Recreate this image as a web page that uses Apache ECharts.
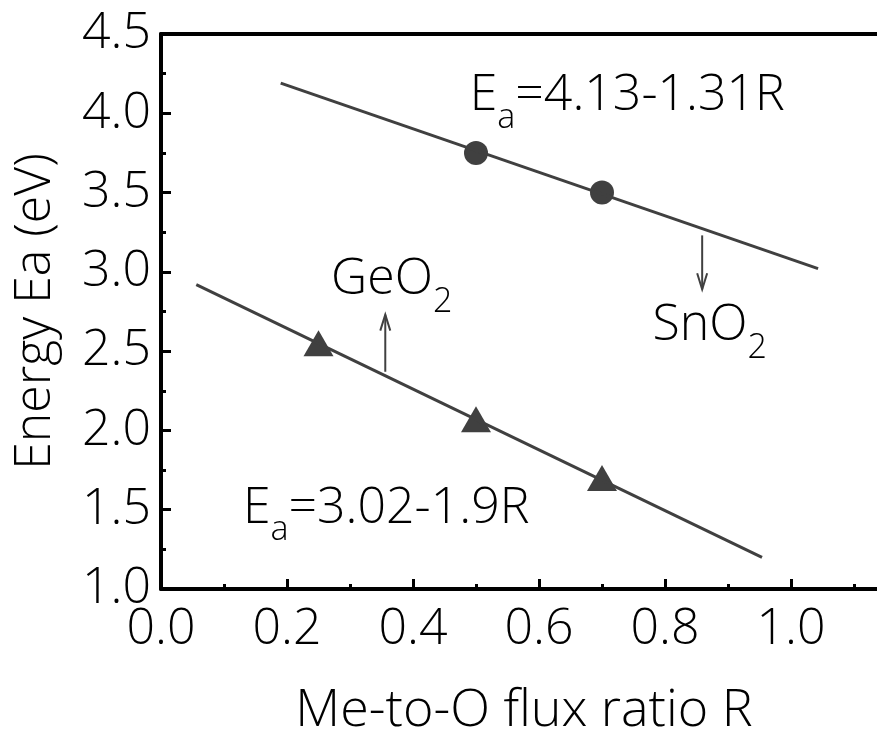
<!DOCTYPE html>
<html>
<head>
<meta charset="utf-8">
<script src="https://cdn.jsdelivr.net/npm/echarts@6/dist/echarts.min.js"></script>
<style>
  html, body { margin: 0; background: #fff; }
  #chart { width: 877px; height: 733px; }
</style>
</head>
<body>
<div id="chart"></div>
<script>
// values
var snPoints = [[0.5, 3.75], [0.7, 3.5]];
var gePoints = [[0.25, 2.55], [0.5, 2.07], [0.7, 1.7]];
var snFit = [[0.19, 4.19], [1.043, 3.02]];
var geFit = [[0.056, 2.92], [0.954, 1.2]];
var geArrow = [[0.356, 2.37], [0.356, 2.73]];
var snArrow = [[0.859, 3.23], [0.859, 2.89]];
var notes = [
  { text: '{m|E}{s|a}{m|=4.13-1.31R}', at: [0.49, 4.14] },
  { text: '{m|GeO}{s|2}', at: [0.27, 2.98] },
  { text: '{m|SnO}{s|2}', at: [0.78, 2.69] },
  { text: '{m|E}{s|a}{m|=3.02-1.9R}', at: [0.13, 1.54] }
];

var FONT = '"Open Sans", "Noto Sans", sans-serif';
var INK = '#404040';

var chartDom = document.getElementById('chart');
var myChart = echarts.init(chartDom);

function arrowItem(pts) {
  return function (params, api) {
    var a = api.coord(pts[0]);
    var b = api.coord(pts[1]);
    var dir = b[1] < a[1] ? 1 : -1;
    var style = { stroke: INK, lineWidth: 2, fill: null };
    return {
      type: 'group',
      children: [
        { type: 'line', shape: { x1: a[0], y1: a[1], x2: b[0], y2: b[1] }, style: style },
        { type: 'polyline', shape: { points: [[b[0] - 5, b[1] + dir * 16], [b[0], b[1]], [b[0] + 5, b[1] + dir * 16]] }, style: style }
      ]
    };
  };
}

var option = {
  animation: false,
  textStyle: { fontFamily: FONT },
  grid: { left: 161, top: 34, right: -40, bottom: 144, outerBoundsMode: 'none', containLabel: false },
  xAxis: [{
    type: 'value', min: 0, max: 1.2, interval: 0.2,
    name: 'Me-to-O flux ratio R', nameLocation: 'middle', nameGap: 96,
    nameTextStyle: { fontSize: 52, color: '#000', fontFamily: FONT, fontWeight: 300, padding: [0, 30, 0, 0] },
    axisLine: { show: true, lineStyle: { color: '#000', width: 4 } },
    axisTick: { show: true, inside: true, length: 10, lineStyle: { color: '#000', width: 3 } },
    minorTick: { show: true, splitNumber: 2, length: 5, lineStyle: { color: '#000', width: 3 } },
    axisLabel: { fontSize: 50, color: '#000', margin: 16, fontFamily: FONT, fontWeight: 300,
      formatter: function (v) { return v.toFixed(1); } },
    splitLine: { show: false }
  }, {
    type: 'value', position: 'top', min: 0, max: 1.2,
    axisLine: { show: true, lineStyle: { color: '#000', width: 4 } },
    axisTick: { show: false }, axisLabel: { show: false }, splitLine: { show: false }
  }],
  yAxis: {
    type: 'value', min: 1.0, max: 4.5, interval: 0.5,
    name: 'Energy Ea (eV)', nameLocation: 'middle', nameGap: 100,
    nameTextStyle: { fontSize: 50, color: '#000', fontFamily: FONT, fontWeight: 300 },
    axisLine: { show: true, lineStyle: { color: '#000', width: 4 } },
    axisTick: { show: true, inside: true, length: 10, lineStyle: { color: '#000', width: 3 } },
    minorTick: { show: true, splitNumber: 2, length: 5, lineStyle: { color: '#000', width: 3 } },
    axisLabel: { fontSize: 50, color: '#000', margin: 10, fontFamily: FONT, fontWeight: 300,
      formatter: function (v) { return v.toFixed(1); } },
    splitLine: { show: false }
  },
  series: [
    { type: 'line', data: snFit, symbol: 'none', lineStyle: { color: INK, width: 3 } },
    { type: 'line', data: geFit, symbol: 'none', lineStyle: { color: INK, width: 3 } },
    { type: 'scatter', data: snPoints, symbol: 'circle', symbolSize: 24, itemStyle: { color: INK, opacity: 1 } },
    { type: 'scatter', data: gePoints, symbol: 'triangle', symbolSize: [30, 26], itemStyle: { color: INK, opacity: 1 } },
    { type: 'custom', data: [0], renderItem: arrowItem(geArrow) },
    { type: 'custom', data: [0], renderItem: arrowItem(snArrow) },
    {
      type: 'scatter', symbolSize: 0, itemStyle: { opacity: 1 },
      data: notes.map(function (n) { return { value: n.at, label: { formatter: n.text } }; }),
      label: {
        show: true, position: 'right', distance: 0, color: '#000',
        rich: {
          m: { fontSize: 50, fontFamily: FONT, fontWeight: 300, color: '#000', verticalAlign: 'bottom', lineHeight: 60 },
          s: { fontSize: 34, fontFamily: FONT, fontWeight: 300, color: '#000', verticalAlign: 'bottom', lineHeight: 42, padding: [0, 0, -14, 0] }
        }
      }
    }
  ]
};

myChart.setOption(option);
</script>
</body>
</html>
